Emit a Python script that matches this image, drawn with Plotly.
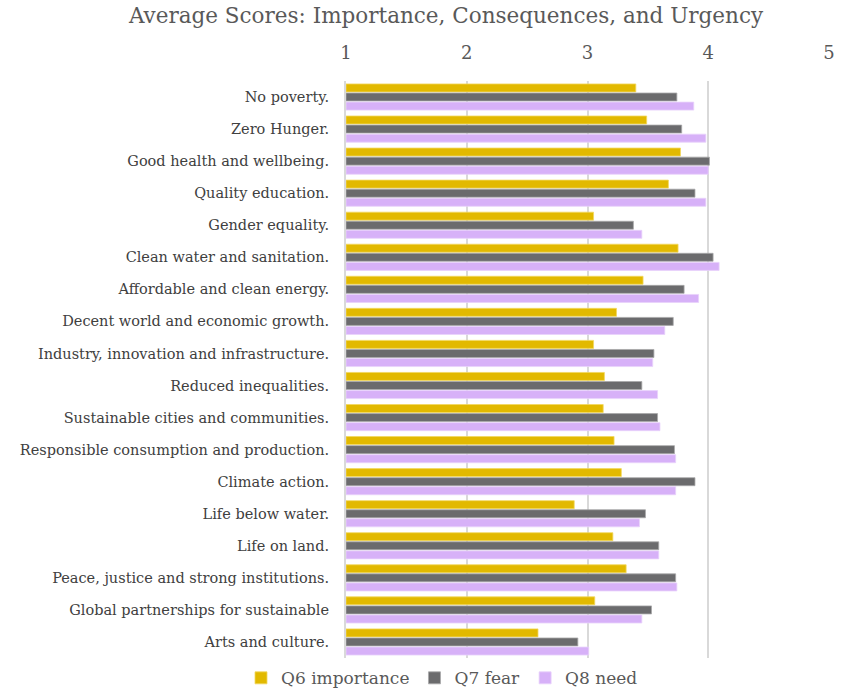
import plotly.graph_objects as go

categories = [
    "No poverty.", "Zero Hunger.", "Good health and wellbeing.", "Quality education.",
    "Gender equality.", "Clean water and sanitation.", "Affordable and clean energy.",
    "Decent world and economic growth.", "Industry, innovation and infrastructure.",
    "Reduced inequalities.", "Sustainable cities and communities.",
    "Responsible consumption and production.", "Climate action.", "Life below water.",
    "Life on land.", "Peace, justice and strong institutions.",
    "Global partnerships for sustainable", "Arts and culture.",
]
q6_importance = [3.40, 3.49, 3.77, 3.67, 3.05, 3.75, 3.46, 3.24, 3.05, 3.14, 3.13, 3.22, 3.28, 2.89, 3.21, 3.32, 3.06, 2.59]
q7_fear =       [3.74, 3.78, 4.01, 3.89, 3.38, 4.04, 3.80, 3.71, 3.55, 3.45, 3.58, 3.72, 3.89, 3.48, 3.59, 3.73, 3.53, 2.92]
q8_need =       [3.88, 3.98, 4.00, 3.98, 3.45, 4.09, 3.92, 3.64, 3.54, 3.58, 3.60, 3.73, 3.73, 3.43, 3.59, 3.74, 3.45, 3.01]
x_ticks = [1, 2, 3, 4, 5]

FONT = "DejaVu Serif"
fig = go.Figure()
series = [
    ("Q6 importance", q6_importance, "#E2B900", "#F2D860"),
    ("Q7 fear", q7_fear, "#6B6B6D", "#A8A8AA"),
    ("Q8 need", q8_need, "#D7B1F8", "#E8D2FB"),
]
for name, vals, col, edge in series:
    fig.add_trace(go.Bar(
        y=categories, x=[v - 1 for v in vals], base=1, name=name, orientation="h",
        marker=dict(color=col, line=dict(color=edge, width=0.8)),
    ))

fig.update_layout(
    width=842, height=689,
    barmode="group", bargap=0.15, bargroupgap=0.12,
    plot_bgcolor="white", paper_bgcolor="white",
    margin=dict(l=346, r=13, t=81, b=31, autoexpand=False),
    title=dict(text="Average Scores: Importance, Consequences, and Urgency",
               x=446/842, xanchor="center", y=1-15/689, yanchor="middle",
               font=dict(family=FONT, size=21.5, color="#595959")),
    font=dict(family=FONT, color="#595959"),
    showlegend=True,
    legend=dict(orientation="h", x=442/842, xanchor="center", xref="container",
                y=-0.004, yanchor="top", font=dict(family=FONT, size=17, color="#595959"),
                itemwidth=30, traceorder="normal", tracegroupgap=0),
)
fig.update_xaxes(
    side="top", range=[1, 5], tickvals=x_ticks, ticktext=[str(t) for t in x_ticks],
    showgrid=True, gridcolor="#D9D9D9", gridwidth=2, zeroline=False,
    ticks="outside", ticklen=14, tickcolor="rgba(0,0,0,0)",
    tickfont=dict(family=FONT, size=18, color="#595959"),
    showline=False,
)
fig.update_yaxes(
    autorange="reversed", categoryorder="array", categoryarray=categories,
    tickfont=dict(family=FONT, size=14.5, color="#404040"),
    ticks="outside", ticklen=12, tickcolor="rgba(0,0,0,0)",
    showline=True, linecolor="#D9D9D9", linewidth=2, showgrid=False,
)
fig.write_html("out.html")
